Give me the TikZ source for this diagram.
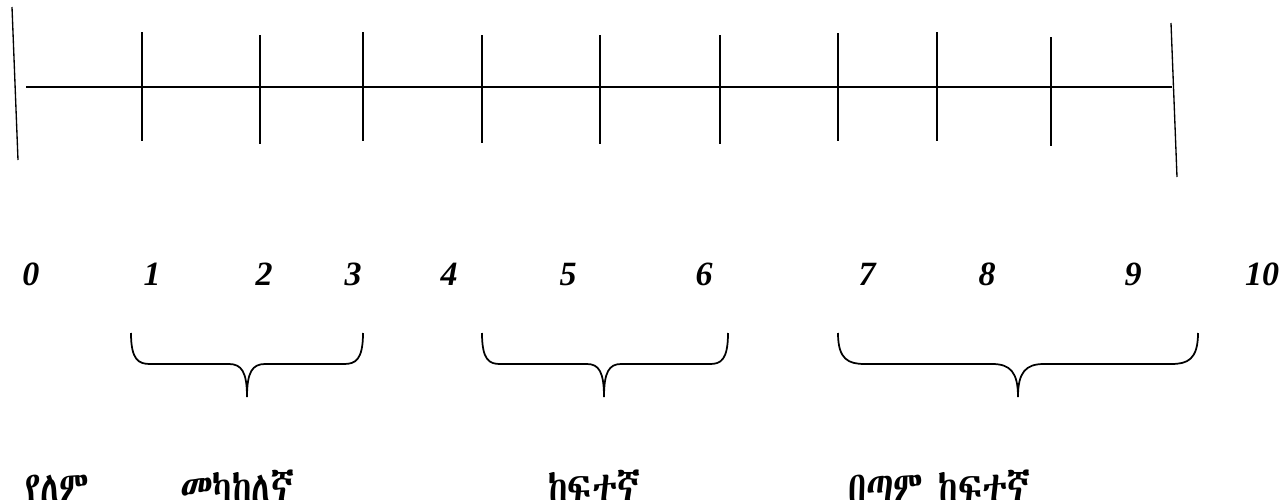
\documentclass[tikz,border=0pt]{standalone}
\usepackage{fontspec}
\usepackage{graphicx}
\newfontfamily\numfont{Liberation Serif}
\IfFontExistsTF{Abyssinica SIL}{\newfontfamily\ethfont{Abyssinica SIL}}{%
  \IfFontExistsTF{FreeSerif}{\newfontfamily\ethfont{FreeSerif}}{%
    \newfontfamily\ethfont{DejaVu Sans}}}
\newcommand\tallword[1]{\scalebox{1}[1.25]{#1}}
\tikzset{
  axisline/.style={line width=1.5pt},
  tickline/.style={line width=1.6pt},
  endline/.style={line width=1pt},
  bracestroke/.style={line width=1.3pt},
  numlabel/.style={font=\numfont\bfseries\itshape\fontsize{25.5pt}{28pt}\selectfont, anchor=base, inner sep=0pt},
  wordlabel/.style={font=\ethfont\fontsize{26pt}{30pt}\selectfont, anchor=base west, inner sep=0pt},
}
% curly brace: left x, tip x, right x, corner width, middle width
\newcommand\scalebrace[5]{%
  \draw[bracestroke] (#1,333) .. controls (#1,360) and ({#1+0.4*#4},364) .. ({#1+#4},364)
    -- ({#2-#5},364) .. controls ({#2-0.3*#5},364) and (#2,372) .. (#2,397)
    .. controls (#2,372) and ({#2+0.3*#5},364) .. ({#2+#5},364)
    -- ({#3-#4},364) .. controls ({#3-0.4*#4},364) and (#3,360) .. (#3,333);}
\begin{document}
\begin{tikzpicture}[x=0.75pt,y=-0.75pt]
\useasboundingbox (0,0) rectangle (1286,500);
% end bars
\coordinate (la) at (12,7);
\coordinate (lb) at (18,160);
\coordinate (ra) at (1171,23);
\coordinate (rb) at (1177,177);
\draw[endline] (la) -- (lb);
\draw[endline] (ra) -- (rb);
% main axis
\coordinate (start) at (26,86.5);
\coordinate (stop) at (1172,86.5);
\draw[axisline] (start) -- (stop);
% tick marks
\foreach \x/\t/\b in {142/32/141, 260/35/144, 363/32/141, 482/35/143, 600/35/144,
                      720/35/144, 838/33/141, 937/32/141, 1051/37/146}
  \draw[tickline] (\x,\t) -- (\x,\b);
% scale numbers
\foreach \x/\n in {31/0, 152/1, 264/2, 353/3, 449/4, 568/5, 704/6, 867/7, 987/8, 1133/9, 1262/10}
  \node[numlabel] (n\n) at (\x,285) {\n};
% grouping braces
\scalebrace{131}{247}{363}{19}{18}
\scalebrace{482}{604}{728}{18}{17}
\scalebrace{838}{1018}{1198}{27}{26}
% category words (baselines sit just below the lower edge)
\node[wordlabel] (w0) at (25,502) {\tallword{የለም}};
\node[wordlabel] (w1) at (180,502) {\tallword{መካከለኛ}};
\node[wordlabel] (w2) at (548,502) {\tallword{ከፍተኛ}};
\node[wordlabel] (w3) at (848,502) {\tallword{በጣም ከፍተኛ}};
\end{tikzpicture}
\end{document}
